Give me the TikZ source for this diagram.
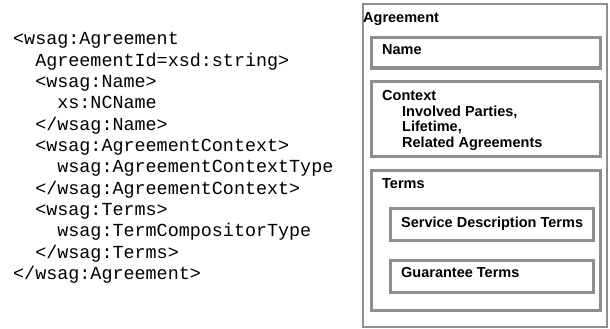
\documentclass[tikz,border=0pt]{standalone}
\usepackage{fontspec}
\setmainfont{Liberation Sans}
\setmonofont{Liberation Mono}
\definecolor{framegray}{HTML}{8E8E8E}
\tikzset{
  part/.style={draw=framegray, line width=3pt},
  outer/.style={draw=framegray, line width=2pt},
  label/.style={anchor=base west, inner sep=0pt, font=\fontsize{14.5}{15.5}\selectfont\bfseries},
  xmlline/.style={anchor=base west, inner sep=0pt, font=\fontsize{18.4}{21.3}\selectfont\ttfamily}
}
\begin{document}
\begin{tikzpicture}[x=1pt,y=-1pt]
  \useasboundingbox (0,0) rectangle (610,329);

  % schema listing on the left
  \foreach \txt [count=\i] in {%
      {<wsag:Agreement},
      {\ \ AgreementId=xsd:string>},
      {\ \ <wsag:Name>},
      {\ \ \ \ xs:NCName},
      {\ \ </wsag:Name>},
      {\ \ <wsag:AgreementContext>},
      {\ \ \ \ wsag:AgreementContextType},
      {\ \ </wsag:AgreementContext>},
      {\ \ <wsag:Terms>},
      {\ \ \ \ wsag:TermCompositorType},
      {\ \ </wsag:Terms>},
      {</wsag:Agreement>}}
    \node[xmlline] (xml\i) at (13, 45+21.3*\i-21.3) {\txt};

  % agreement structure on the right
  \draw[outer] (363,4) rectangle (607,327);
  \node[label] (agreement) at (363,23) {Agreement};

  \draw[part] (371,38) rectangle (600,68);
  \node[label] (name) at (382,55) {Name};

  \draw[part] (371,81) rectangle (600,156);
  \node[label] (context) at (382,100) {Context};
  \node[label] (parties) at (402,116) {Involved Parties,};
  \node[label] (lifetime) at (402,131.5) {Lifetime,};
  \node[label] (related) at (402,147) {Related Agreements};

  \draw[part] (371,170) rectangle (600,310);
  \node[label] (terms) at (382,188) {Terms};

  \draw[part] (390,208) rectangle (593,240);
  \node[label] (sdt) at (401,227) {Service Description Terms};

  \draw[part] (390,260) rectangle (593,292);
  \node[label] (guarantee) at (401,277) {Guarantee Terms};
\end{tikzpicture}
\end{document}
